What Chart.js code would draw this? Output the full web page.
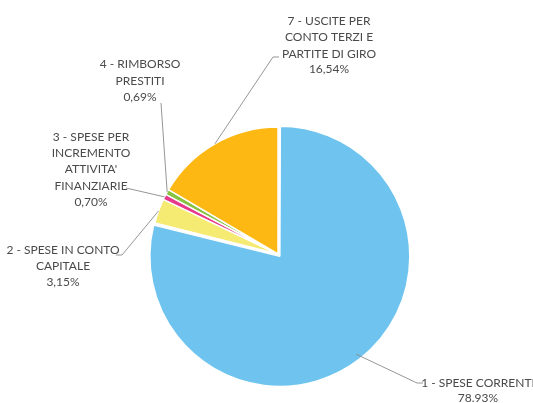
<!DOCTYPE html>
<html lang="it">

<head>
    <meta charset="UTF-8">
    <title>Spese</title>
    <script src="https://cdn.jsdelivr.net/npm/chart.js@4.4.0/dist/chart.umd.min.js"></script>
    <style>
        body { margin: 0; background: #fff; }
        #wrap { width: 533px; height: 403px; position: relative; }
    </style>
</head>

<body>
    <div id="wrap">
        <canvas id="pie"></canvas>
    </div>

<script>
    // data
    const categories = [
        ['1 - SPESE CORRENTI'],
        ['2 - SPESE IN CONTO', 'CAPITALE'],
        ['3 - SPESE PER', 'INCREMENTO', "ATTIVITA'", 'FINANZIARIE'],
        ['4 - RIMBORSO', 'PRESTITI'],
        ['7 - USCITE PER', 'CONTO TERZI E', 'PARTITE DI GIRO']
    ];
    const shares = [78.93, 3.15, 0.70, 0.69, 16.54];
    const shareText = ['78.93%', '3,15%', '0,70%', '0,69%', '16,54%'];

    const sliceColors = ['#6ec4ef', '#f5ea72', '#e6398c', '#86c341', '#fdb813'];

    // where each label sits and how its leader line bends (page pixels)
    const labelPlace = [
        { x: 478, y: [383, 398], path: [[417, 383], [423, 383]] },
        { x: 63, y: [250, 266, 282], path: [[122, 255], [116, 255]] },
        { x: 91, y: [137, 153, 169, 186, 202], path: [[126, 188]] },
        { x: 140, y: [64, 81, 97], path: [[161, 103]] },
        { x: 329, y: [21, 37, 54, 69], path: [[273, 57], [279, 57]] }
    ];

    const outsideLabels = {
        id: 'outsideLabels',
        afterDatasetsDraw(chart) {
            const ctx = chart.ctx;
            const arcs = chart.getDatasetMeta(0).data;
            ctx.save();
            ctx.strokeStyle = '#8a8a8a';
            ctx.lineWidth = 0.9;
            arcs.forEach((arc, i) => {
                const p = arc.getProps(['x', 'y', 'startAngle', 'endAngle', 'outerRadius'], true);
                const mid = (p.startAngle + p.endAngle) / 2;
                ctx.beginPath();
                ctx.moveTo(p.x + Math.cos(mid) * p.outerRadius, p.y + Math.sin(mid) * p.outerRadius);
                labelPlace[i].path.forEach(pt => ctx.lineTo(pt[0], pt[1]));
                ctx.stroke();
            });

            ctx.fillStyle = '#4a4a4a';
            ctx.font = '12px Lato, sans-serif';
            ctx.textAlign = 'center';
            ctx.textBaseline = 'middle';
            categories.forEach((lines, i) => {
                const all = lines.concat([shareText[i]]);
                all.forEach((t, k) => ctx.fillText(t, labelPlace[i].x, labelPlace[i].y[k]));
            });
            ctx.restore();
        }
    };

    const ctx = document.getElementById('pie').getContext('2d');
    const myChart = new Chart(ctx, {
        type: 'pie',
        data: {
            labels: categories.map(c => c.join(' ')),
            datasets: [{
                data: shares,
                backgroundColor: sliceColors,
                borderColor: '#ffffff',
                borderWidth: 1.5,
                offset: [12, 0, 0, 0, 0],
                hoverOffset: 0,
                radius: 127
            }]
        },
        options: {
            responsive: true,
            maintainAspectRatio: false,
            animation: false,
            layout: {
                padding: { left: 23, right: 0, top: 105, bottom: 0 }
            },
            plugins: {
                legend: { display: false },
                tooltip: { enabled: false }
            }
        },
        plugins: [outsideLabels]
    });
</script>

</body>

</html>
